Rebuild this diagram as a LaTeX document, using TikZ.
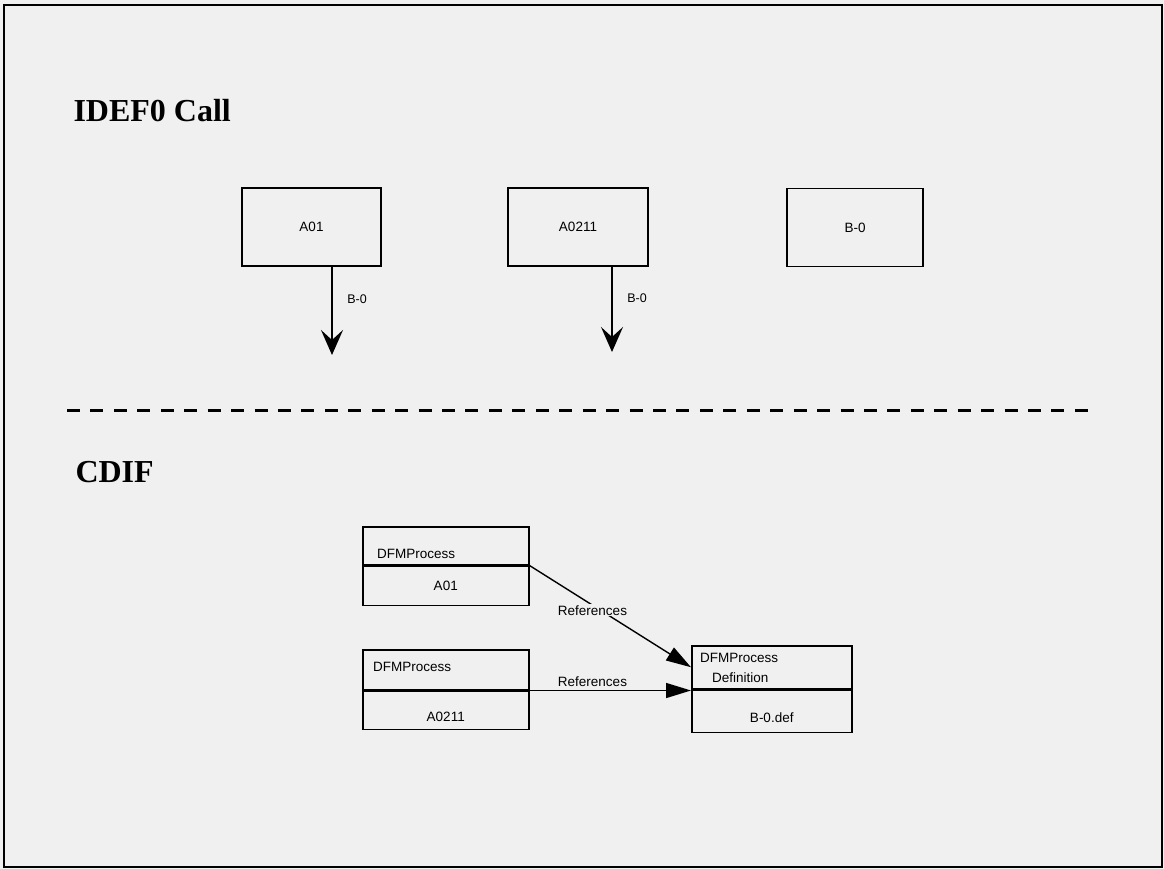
\documentclass[tikz,border=0pt]{standalone}
\usepackage{fontspec}
\setmainfont{Liberation Serif}
\setsansfont{Liberation Sans}
\usepackage{tikz}
\usetikzlibrary{arrows.meta, positioning}
\definecolor{bg}{RGB}{240,240,241}

\begin{document}
\begin{tikzpicture}[x=1pt, y=-1pt,
	title/.style={anchor=base west, font=\bfseries\fontsize{32}{36}\selectfont},
	actbox/.style={draw, line width=1.7pt, minimum height=78pt, inner sep=0pt, font=\sffamily\fontsize{13.5}{15}\selectfont},
	classbox/.style={draw, line width=1.5pt, anchor=north west, inner sep=0pt},
	boxtext/.style={font=\sffamily\fontsize{13.5}{15}\selectfont, inner sep=0pt},
	flowlabel/.style={font=\sffamily\fontsize{12.5}{14}\selectfont, inner sep=0pt},
	callarrow/.style={line width=1.9pt, -{Stealth[length=25pt, width=22pt, inset=10pt]}},
	refarrow/.style={line width=1.4pt, -{Triangle[length=25pt, width=15pt]}},
	reflabel/.style={font=\sffamily\fontsize{13.5}{15}\selectfont, fill=bg, inner sep=1pt}]
	\useasboundingbox (0,0) rectangle (1164,869);
	\fill[bg] (0,0) rectangle (1164,869);
	\draw[line width=1.6pt] (4,5) rectangle (1162,867);

	% IDEF0 Call
	\begin{scope}
		\node[title] (idefttl) at (70,122) {IDEF0 Call};
		\node[actbox, minimum width=139pt] (a01) at (311.5,227) {A01};
		\node[actbox, minimum width=140pt] (a0211) at (578,227) {A0211};
		\node[actbox, minimum width=136pt] (b0) at (855,227.5) {B-0};
		\coordinate (a01end) at (332,355);
		\coordinate (a0211end) at (612,352);
		\draw[callarrow] (a01.south -| a01end) -- (a01end);
		\draw[callarrow] (a0211.south -| a0211end) -- (a0211end);
		\node[flowlabel] (a01lbl) at (357,299) {B-0};
		\node[flowlabel] (a0211lbl) at (637,298) {B-0};
	\end{scope}

	% Trennlinie
	\draw[line width=2.6pt, dash pattern=on 13pt off 10.44pt] (67,410.5) -- (1088,410.5);

	% CDIF
	\begin{scope}
		\node[title] (cdifttl) at (72,482) {CDIF};
		% DFMProcess A01
		\node[classbox, minimum width=166pt, minimum height=38pt] (p1h) at (362,526) {};
		\node[classbox, minimum width=166pt, minimum height=39pt] (p1b) at (p1h.south west) {};
		\node[boxtext, anchor=base west] (p1name) at ([xshift=15pt, yshift=7pt]p1h.south west) {DFMProcess};
		\node[boxtext] (p1val) at (p1b.center) {A01};
		% DFMProcess A0211
		\node[classbox, minimum width=166pt, minimum height=40pt] (p2h) at (362,649) {};
		\node[classbox, minimum width=166pt, minimum height=38pt] (p2b) at (p2h.south west) {};
		\node[boxtext, anchor=base west] (p2name) at ([xshift=11pt, yshift=19pt]p2h.south west) {DFMProcess};
		\node[boxtext] (p2val) at ([yshift=-7pt]p2b.center) {A0211};
		% DFMProcessDefinition B-0.def
		\node[classbox, minimum width=160pt, minimum height=43pt] (p3h) at (691,645) {};
		\node[classbox, minimum width=160pt, minimum height=42pt] (p3b) at (p3h.south west) {};
		\node[boxtext, anchor=base west] (p3name) at ([xshift=9pt, yshift=-17.5pt]p3h.north west) {DFMProcess};
		\node[boxtext, anchor=base west] (p3def) at ([xshift=21pt, yshift=-37.5pt]p3h.north west) {Definition};
		\node[boxtext] (p3val) at ([yshift=-6pt]p3b.center) {B-0.def};
		% References
		\draw[refarrow] (p1h.south east) -- node[reflabel, pos=0.39, yshift=-5pt] (ref1) {References} (p3h.west);
		\draw[refarrow] (p2b.north east) -- node[reflabel, pos=0.39, above=2pt, fill=none] (ref2) {References} (p2b.north east -| p3b.west);
	\end{scope}
\end{tikzpicture}
\end{document}
